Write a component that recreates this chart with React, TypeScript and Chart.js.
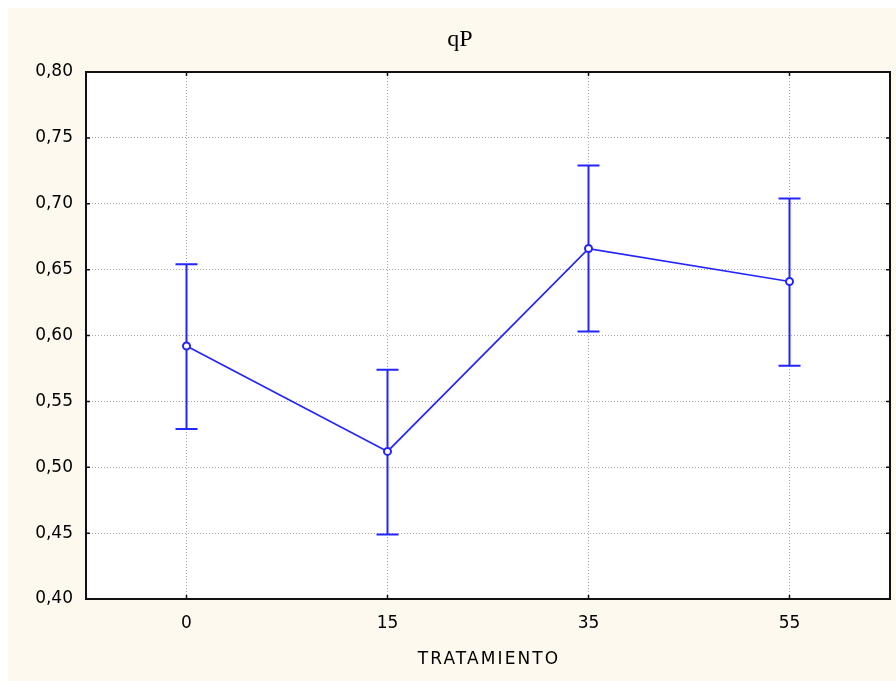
import React, { useEffect, useRef } from "react";
import { Chart, registerables } from "chart.js";

Chart.register(...registerables);

const categories = ["0", "15", "35", "55"];
const means = [0.592, 0.512, 0.666, 0.641];
const upper = [0.654, 0.574, 0.729, 0.704];
const lower = [0.529, 0.449, 0.603, 0.577];
const yTicks = [0.4, 0.45, 0.5, 0.55, 0.6, 0.65, 0.7, 0.75, 0.8];
const xAxisTitle = "TRATAMIENTO";
const chartTitle = "qP";

const BLUE = "rgb(36,36,255)";

const plotBg = {
  id: "plotBg",
  beforeDraw(chart: any) {
    const { ctx, chartArea: a } = chart;
    ctx.save();
    ctx.fillStyle = "#ffffff";
    ctx.fillRect(a.left, a.top, a.right - a.left, a.bottom - a.top);
    ctx.restore();
  },
};

const errorBars = {
  id: "errorBars",
  beforeDatasetsDraw(chart: any) {
    const { ctx } = chart;
    const xs = chart.scales.x;
    const ys = chart.scales.y;
    ctx.save();
    ctx.strokeStyle = BLUE;
    ctx.lineWidth = 2;
    categories.forEach((c, i) => {
      const x = xs.getPixelForValue(i);
      const yt = ys.getPixelForValue(upper[i]);
      const yb = ys.getPixelForValue(lower[i]);
      ctx.beginPath();
      ctx.moveTo(x, yt);
      ctx.lineTo(x, yb);
      ctx.moveTo(x - 11, yt);
      ctx.lineTo(x + 11, yt);
      ctx.moveTo(x - 11, yb);
      ctx.lineTo(x + 11, yb);
      ctx.stroke();
    });
    ctx.restore();
  },
};

const frame = {
  id: "frame",
  afterDraw(chart: any) {
    const { ctx, chartArea: a } = chart;
    const xs = chart.scales.x;
    const ys = chart.scales.y;
    ctx.save();
    ctx.strokeStyle = "#111111";
    ctx.lineWidth = 1.5;
    const L = 4;
    ctx.beginPath();
    ys.ticks.forEach((t: any) => {
      const y = ys.getPixelForValue(t.value);
      ctx.moveTo(a.left, y);
      ctx.lineTo(a.left + L, y);
      ctx.moveTo(a.right - L, y);
      ctx.lineTo(a.right, y);
    });
    categories.forEach((c, i) => {
      const x = xs.getPixelForValue(i);
      ctx.moveTo(x, a.bottom);
      ctx.lineTo(x, a.bottom - L);
      ctx.moveTo(x, a.top);
      ctx.lineTo(x, a.top + L);
    });
    ctx.stroke();
    ctx.lineWidth = 2;
    ctx.strokeRect(a.left, a.top, a.right - a.left, a.bottom - a.top);
    // chart title
    ctx.fillStyle = "#000";
    ctx.textAlign = "center";
    ctx.textBaseline = "middle";
    ctx.font = "24px 'Liberation Serif', serif";
    ctx.fillText(chartTitle, 452, 32);
    // x axis title with letter spacing
    ctx.font = "17px 'DejaVu Sans', sans-serif";
    (ctx as any).letterSpacing = "2.1px";
    ctx.fillText(xAxisTitle, (a.left + a.right) / 2 + 1, 652);
    ctx.restore();
  },
};

export default function App() {
  const ref = useRef<HTMLCanvasElement | null>(null);
  useEffect(() => {
    if (!ref.current) return;
    const chart = new Chart(ref.current, {
      type: "line",
      data: {
        labels: categories,
        datasets: [
          {
            label: chartTitle,
            data: means,
            borderColor: BLUE,
            borderWidth: 1.7,
            pointRadius: 3.5,
            pointBorderWidth: 2,
            pointBackgroundColor: "#ffffff",
            pointBorderColor: BLUE,
            tension: 0,
          },
        ],
      },
      options: {
        animation: false,
        responsive: true,
        maintainAspectRatio: false,
        layout: { padding: { left: 0, right: 5, top: 64, bottom: 0 } },
        plugins: {
          legend: { display: false },
          tooltip: { enabled: false },
          title: { display: false },
        },
        scales: {
          x: {
            type: "category",
            offset: true,
            afterFit: (s: any) => {
              s.height = 82;
            },
            grid: { offset: false, color: "#a8a8a8", drawTicks: false, lineWidth: 1 },
            border: { display: false, dash: [1, 2] },
            ticks: {
              color: "#000",
              padding: 14,
              font: { family: "'DejaVu Sans', sans-serif", size: 17 },
            },
          },
          y: {
            min: 0.4,
            max: 0.8,
            afterFit: (s: any) => {
              s.width = 78;
            },
            afterBuildTicks: (s: any) => {
              s.ticks = yTicks.map((v) => ({ value: v }));
            },
            grid: { color: "#a8a8a8", drawTicks: false, lineWidth: 1 },
            border: { display: false, dash: [1, 2] },
            ticks: {
              color: "#000",
              padding: 13,
              font: { family: "'DejaVu Sans', sans-serif", size: 17 },
              callback: (v: any) => Number(v).toFixed(2).replace(".", ","),
            },
          },
        },
      },
      plugins: [plotBg, errorBars, frame],
    });
    return () => chart.destroy();
  }, []);
  return (
    <div
      style={{
        position: "absolute",
        left: 8,
        top: 8,
        width: 888,
        height: 673,
        background: "#fef9ee",
      }}
    >
      <canvas ref={ref} />
    </div>
  );
}
